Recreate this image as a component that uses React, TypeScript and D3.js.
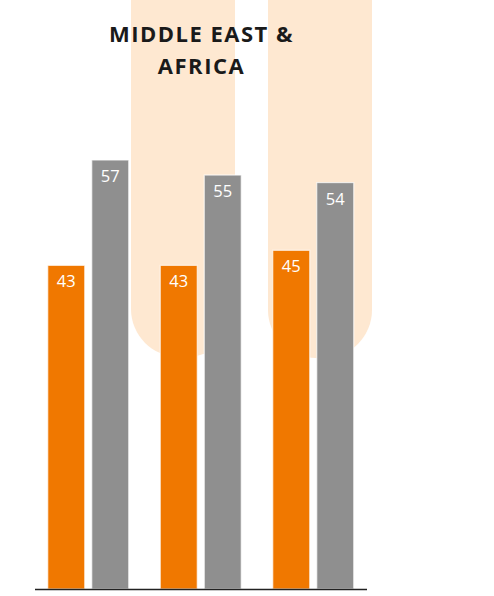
import React, { useEffect, useRef } from 'react';
import * as d3 from 'd3';

const categories = ['Group 1', 'Group 2', 'Group 3'];
const seriesNames = ['Series A', 'Series B'];
const seriesA = [43, 43, 45];
const seriesB = [57, 55, 54];
const titleLines = ['MIDDLE EAST &', 'AFRICA'];

const WIDTH = 494;
const HEIGHT = 596;
const COLORS = ['#F07800', '#8F8F8F'];
const PEACH = '#FEE8D1';

export default function App() {
  const svgRef = useRef<SVGSVGElement>(null);

  useEffect(() => {
    const svg = d3.select(svgRef.current);
    svg.selectAll('*').remove();

    const baseY = 589;

    // decorative peach columns with rounded bottoms
    const columns = [
      { x: 131, w: 104, bottom: 357 },
      { x: 268, w: 104, bottom: 358 },
    ];
    const r = 48;
    columns.forEach(c => {
      const p = d3.path();
      p.moveTo(c.x, 0);
      p.lineTo(c.x + c.w, 0);
      p.lineTo(c.x + c.w, c.bottom - r);
      p.arcTo(c.x + c.w, c.bottom, c.x + c.w - r, c.bottom, r);
      p.lineTo(c.x + r, c.bottom);
      p.arcTo(c.x, c.bottom, c.x, c.bottom - r, r);
      p.closePath();
      svg.append('path').attr('d', p.toString()).style('fill', PEACH);
    });

    // title
    svg.append('text')
      .attr('x', 201)
      .attr('y', 42)
      .attr('text-anchor', 'middle')
      .style('font-family', '"Open Sans", sans-serif')
      .style('font-weight', 700)
      .style('font-size', '22px')
      .style('letter-spacing', '1.5px')
      .style('fill', '#1a1a1a')
      .selectAll('tspan')
      .data(titleLines)
      .enter()
      .append('tspan')
      .attr('x', 201.5)
      .attr('dy', (d, i) => (i === 0 ? 0 : 32))
      .text(d => d);

    // scales
    const x0 = d3.scaleBand<string>()
      .domain(categories)
      .range([32.25, 369.75])
      .padding(0);

    const x1 = d3.scaleBand<string>()
      .domain(seriesNames)
      .range([15.5, 96.5])
      .paddingInner(0.159)
      .paddingOuter(0);

    const y = d3.scaleLinear()
      .domain([0, 57])
      .range([baseY, 160]);

    const data = categories.map((c, i) => ({
      category: c,
      values: [
        { name: seriesNames[0], value: seriesA[i] },
        { name: seriesNames[1], value: seriesB[i] },
      ],
    }));

    const groups = svg.selectAll('.group')
      .data(data)
      .enter()
      .append('g')
      .attr('class', 'group')
      .attr('transform', d => `translate(${x0(d.category)},0)`);

    groups.selectAll('rect')
      .data(d => d.values)
      .enter()
      .append('rect')
      .attr('x', d => x1(d.name) as number)
      .attr('y', d => y(d.value))
      .attr('width', x1.bandwidth())
      .attr('height', d => baseY - y(d.value))
      .style('fill', (d, i) => COLORS[i])
      .style('stroke', '#ffffff')
      .style('stroke-opacity', 0.7)
      .style('stroke-width', 1.2);

    groups.selectAll('.label')
      .data(d => d.values)
      .enter()
      .append('text')
      .attr('class', 'label')
      .attr('x', d => (x1(d.name) as number) + x1.bandwidth() / 2)
      .attr('y', d => y(d.value) + 22)
      .attr('text-anchor', 'middle')
      .style('font-family', '"Open Sans", sans-serif')
      .style('font-size', '16.5px')
      .style('fill', '#ffffff')
      .text(d => d.value);

    // baseline
    svg.append('line')
      .attr('x1', 35)
      .attr('x2', 367)
      .attr('y1', baseY + 0.5)
      .attr('y2', baseY + 0.5)
      .style('stroke', '#222222')
      .style('stroke-width', 1.5);
  }, []);

  return (
    <svg
      ref={svgRef}
      width={WIDTH}
      height={HEIGHT}
      style={{ position: 'absolute', top: 0, left: 0, background: '#ffffff' }}
    />
  );
}
